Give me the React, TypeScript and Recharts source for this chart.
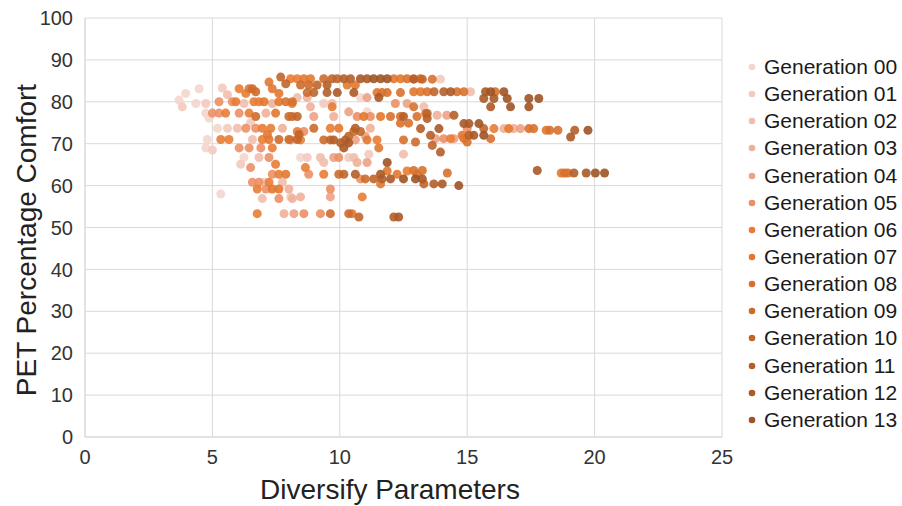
import React from 'react';
import { ScatterChart, Scatter, XAxis, YAxis, ZAxis, CartesianGrid, Legend } from 'recharts';

const FONT = '"Liberation Sans", Arial, Helvetica, sans-serif';

const xTicks = [0, 5, 10, 15, 20, 25];
const yTicks = [0, 10, 20, 30, 40, 50, 60, 70, 80, 90, 100];

const seriesNames = [
  'Generation 00', 'Generation 01', 'Generation 02', 'Generation 03', 'Generation 04',
  'Generation 05', 'Generation 06', 'Generation 07', 'Generation 08', 'Generation 09',
  'Generation 10', 'Generation 11', 'Generation 12', 'Generation 13',
];

const seriesColors = [
  '#f4d6cc', '#f3cabd', '#f1bead', '#efb09a', '#eda186',
  '#eb8f66', '#e97c35', '#e2782f', '#d7712e', '#cc6c2c',
  '#c0652b', '#b55f29', '#aa5927', '#9f5326',
];

const gen00: [number, number][] = [
  [3.69, 80.4], [3.95, 82.0], [4.48, 83.1], [4.35, 79.6], [4.74, 77.3], [4.87, 76.1], [4.8, 71.0],
  [4.74, 69.0], [5.33, 58.0], [5.2, 73.7], [6.24, 66.7], [8.46, 66.7], [10.81, 81], [11.07, 77.6],
];
const gen01: [number, number][] = [
  [3.82, 78.8], [4.74, 79.6], [5.39, 83.3], [5.59, 73.7], [6.11, 65.1], [7.03, 60.8], [8.07, 57.3],
  [9.37, 79.6], [8.72, 66.7], [10.35, 66.7], [11.14, 67.5], [13.95, 85.4], [5.0, 68.5], [6.5, 75],
];
const gen02: [number, number][] = [
  [5.59, 81.7], [6.24, 79.6], [5.98, 73.7], [6.57, 71.0], [6.83, 66.7], [7.75, 60.8], [6.96, 56.9],
  [8.33, 81], [9.7, 79.6], [9.24, 66.7], [10.55, 66.7], [9.37, 65.5], [12.5, 67.5], [13.3, 78.8], [15.13, 82.4],
];
const gen03: [number, number][] = [
  [7.1, 77.3], [7.35, 79.6], [7.75, 73.7], [8.0, 59.2], [8.14, 56.9], [7.81, 53.3], [8.72, 81],
  [8.85, 78.8], [9.76, 76.5], [10.68, 65.5], [11.2, 73.7], [8.46, 57.3], [13.82, 76.8], [16.44, 73.6], [16.83, 73.6],
];
const gen04: [number, number][] = [
  [8.2, 53.3], [10.35, 77.6], [8.98, 76.5], [11.0, 71.8], [10.61, 70.9], [9.76, 66.7], [11.07, 65.5],
  [9.63, 57.3], [12.64, 79.6], [14.2, 76.8], [17.09, 73.6], [13.76, 71.2], [14.48, 71.2], [11.07, 81],
];
const gen05: [number, number][] = [
  [5.26, 80], [5.78, 80], [5.0, 77.3], [5.26, 77.3], [6.05, 77.3], [6.31, 73.7], [6.7, 73.7], [6.05, 69],
  [6.44, 69], [6.9, 69], [7.22, 66.7], [6.5, 64.3], [7.35, 62.7], [6.57, 60.8], [6.83, 60.8], [7.1, 59.2],
  [7.61, 56.9], [8.07, 70.9], [8.59, 72.9], [9.96, 66.7], [8.78, 62.7], [10.81, 61.6], [9.63, 59.2],
  [8.59, 53.3], [9.24, 53.3], [12.18, 79.6], [11.2, 76.5], [10.68, 76.5], [14.08, 71.2], [15.0, 73.6],
];
const gen06: [number, number][] = [
  [5.92, 80], [6.63, 80], [6.83, 80], [5.52, 77.3], [6.44, 77.3], [5.33, 71], [5.65, 71], [6.96, 73.7],
  [7.29, 73.7], [6.96, 71], [7.35, 69], [7.48, 65.1], [7.61, 62.7], [7.22, 60.8], [6.76, 59.2], [6.76, 53.3],
  [6.05, 83.1], [6.31, 82], [8.07, 85.5], [8.33, 85.5], [8.13, 79.6], [9.7, 78.8], [8.33, 72.9], [8.46, 70.9],
  [9.63, 73.7], [8.65, 64.3], [9.37, 62.7], [10.88, 57.3], [11.46, 70.9], [12.64, 63.5], [14.35, 71.2], [16.05, 73.6],
];
const gen07: [number, number][] = [
  [7.03, 80], [7.61, 80], [7.48, 77.3], [7.22, 71], [7.16, 72.2], [7.88, 62.7], [7.35, 59.2], [7.61, 59.2],
  [6.44, 83.1], [7.35, 83.1], [7.22, 84.7], [7.61, 82], [8.59, 85.5], [8.85, 85.5], [10.29, 84], [10.61, 84],
  [11.46, 82.2], [12.12, 85.5], [12.38, 85.5], [10.94, 76.5], [11.6, 76.5], [9.96, 73.7], [11.07, 70.9],
  [11.53, 69], [11.86, 63.5], [12.25, 62.7], [11.6, 60.4], [10.48, 53.3], [12.9, 82.4], [13.17, 82.4],
  [14.87, 71.2], [14.8, 72], [16.63, 73.6], [18.1, 73.2], [18.69, 63],
];
const gen08: [number, number][] = [
  [7.88, 80], [8.14, 80], [12.64, 85.5], [12.9, 85.5], [13.16, 85.5], [11.66, 82.2], [11.86, 82.2],
  [12.38, 82.2], [11.99, 76.5], [12.38, 76.5], [13.03, 76.5], [12.38, 74.9], [12.7, 74.9], [12.5, 70.9],
  [13.03, 62.7], [13.63, 85.4], [13.43, 82.4], [14.6, 82.4], [14.87, 82.4], [16.1, 82.4], [12.9, 78.8],
  [13.37, 77.2], [15.92, 71.2], [15.0, 70.4], [12.9, 63.6], [13.24, 63.6], [14.22, 63], [17.42, 73.6],
  [17.61, 73.6], [18.24, 73.2], [18.56, 73.2], [18.82, 63], [18.95, 63],
];
const gen09: [number, number][] = [
  [6.57, 83.1], [6.7, 82.4], [6.7, 76.5], [7.61, 71], [8.0, 71], [8.0, 76.5], [8.46, 84], [8.78, 84],
  [8.72, 82.2], [8.13, 76.5], [8.98, 73.7], [9.37, 70.9], [9.37, 85.5], [9.96, 62.7], [9.63, 53.3],
  [10.35, 53.3], [10.55, 72.9], [11.0, 61.6], [12.97, 70.4],
];
const gen10: [number, number][] = [
  [7.68, 85.9], [7.88, 84.3], [8.33, 76.5], [8.33, 71], [8.4, 72.2], [9.11, 84], [8.98, 82.2], [9.7, 85.5],
  [9.9, 85.5], [9.63, 70.9], [10.16, 62.7], [10.75, 52.5], [10.81, 72.9], [11.33, 61.6], [10.35, 71.8],
  [13.24, 85.4], [13.7, 82.4], [13.43, 77.2], [13.63, 69.6], [13.3, 60.4], [15.65, 73.6],
];
const gen11: [number, number][] = [
  [9.5, 84], [9.5, 82.2], [10.16, 85.5], [10.42, 85.5], [9.76, 70.9], [10.22, 70.9], [10.03, 70.2],
  [10.61, 73.7], [10.61, 62.7], [11.66, 61.6], [12.12, 52.5], [12.5, 76.5], [12.9, 85.4], [14.08, 82.4],
  [13.43, 76], [14.48, 76.8], [13.17, 73.6], [13.56, 72], [13.95, 68], [13.69, 60.4], [15.07, 72],
  [19.22, 73.2], [19.19, 63],
];
const gen12: [number, number][] = [
  [9.9, 82.2], [10.55, 82.2], [10.81, 85.5], [11.07, 85.5], [10.35, 70.2], [10.16, 69], [11.6, 62.7],
  [11.99, 61.6], [12.31, 52.5], [11.53, 81], [14.35, 82.4], [15.72, 82.4], [15.65, 80.8], [16.05, 80.8],
  [15.92, 78.8], [14.87, 74.8], [15.07, 74.8], [13.89, 73.6], [13.24, 61.6], [14.02, 60.4], [15.26, 72],
  [17.75, 63.6], [19.06, 71.6], [19.67, 63],
];
const gen13: [number, number][] = [
  [11.33, 85.5], [11.6, 85.5], [11.86, 85.5], [11.86, 65.5], [12.5, 61.6], [12.97, 61.6], [15.92, 82.4],
  [16.44, 82.4], [16.57, 80.8], [17.42, 80.8], [17.81, 80.8], [16.7, 78.8], [17.42, 78.8], [15.46, 74.8],
  [15.65, 72], [14.67, 60], [19.74, 73.2], [20.03, 63], [20.39, 63],
];

const generations = [gen00, gen01, gen02, gen03, gen04, gen05, gen06, gen07, gen08, gen09, gen10, gen11, gen12, gen13];

const renderLegend = (props: any) => {
  const payload = props.payload || [];
  return (
    <div style={{ fontFamily: FONT, fontSize: 21, color: '#1a1a1a' }}>
      {payload.map((entry: any, i: number) => (
        <div key={i} style={{ height: 27.15, display: 'flex', alignItems: 'center', whiteSpace: 'nowrap' }}>
          <svg width={12} height={12} style={{ display: 'block' }}>
            <circle cx={6} cy={6} r={3.3} fill={entry.color} />
          </svg>
          <span style={{ marginLeft: 6 }}>{entry.value}</span>
        </div>
      ))}
    </div>
  );
};

export default function App() {
  return (
    <div style={{ position: 'absolute', left: 0, top: 0, width: 902, height: 506, background: '#fff' }}>
      <ScatterChart width={902} height={506} margin={{ top: 18, right: 180, bottom: 39, left: 10 }}>
        <CartesianGrid stroke="#d9d9d9" strokeWidth={1} />
        <XAxis
          type="number"
          dataKey="x"
          domain={[0, 25]}
          ticks={xTicks}
          interval={0}
          height={30}
          tickLine={false}
          tickSize={0}
          tickMargin={13}
          axisLine={{ stroke: '#d9d9d9' }}
          tick={{ fontSize: 20, fill: '#333', fontFamily: FONT }}
          label={() => (
            <text x={390} y={499} textAnchor="middle" fontSize={28} fill="#222" fontFamily={FONT}>
              Diversify Parameters
            </text>
          )}
        />
        <YAxis
          type="number"
          dataKey="y"
          domain={[0, 100]}
          ticks={yTicks}
          interval={0}
          width={75}
          tickLine={false}
          tickSize={0}
          tickMargin={12}
          axisLine={{ stroke: '#d9d9d9' }}
          tick={{ fontSize: 20, fill: '#333', fontFamily: FONT }}
          label={() => (
            <text
              x={36}
              y={240}
              textAnchor="middle"
              fontSize={28}
              fill="#222"
              fontFamily={FONT}
              transform="rotate(-90 36 240)"
            >
              PET Percentage Comfort
            </text>
          )}
        />
        <ZAxis type="number" range={[46, 46]} />
        <Legend
          layout="vertical"
          align="center"
          verticalAlign="middle"
          content={renderLegend}
          wrapperStyle={{ left: 746, top: 53.5, width: 156 }}
        />
        {generations.map((g, i) => (
          <Scatter
            key={seriesNames[i]}
            name={seriesNames[i]}
            data={g.map(([x, y]) => ({ x, y }))}
            fill={seriesColors[i]}
            fillOpacity={0.9}
            isAnimationActive={false}
          />
        ))}
      </ScatterChart>
    </div>
  );
}
